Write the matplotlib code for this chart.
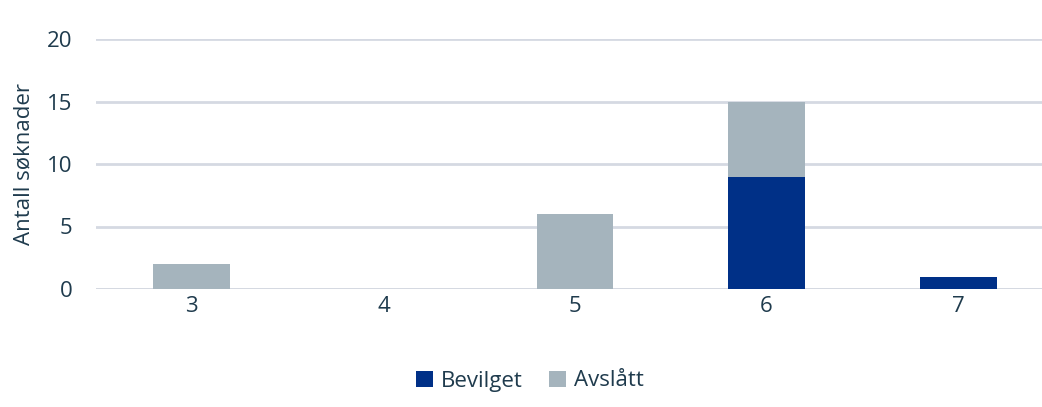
import matplotlib
matplotlib.use("Agg")
import matplotlib.pyplot as plt
import numpy as np

categories = ["3", "4", "5", "6", "7"]
bevilget = [0, 0, 0, 9, 1]
avslatt = [2, 0, 6, 6, 0]
yticks = [0, 5, 10, 15, 20]

TXT = "#1F3B4D"
plt.rcParams['font.family'] = ['Open Sans', 'DejaVu Sans']

W, H = 1042, 407
fig = plt.figure(figsize=(W/100, H/100), dpi=100)
ax = fig.add_axes([96/W, (H-289)/H, (1054-96)/W, 250/H])

x = np.arange(len(categories))
ax.bar(x, bevilget, width=0.4, color="#003087", label="Bevilget", zorder=3)
ax.bar(x, avslatt, width=0.4, bottom=bevilget, color="#A5B4BD", label="Avslått", zorder=3)

ax.set_xlim(-0.5, len(categories) - 0.5)
ax.set_ylim(0, 20)
ax.set_yticks(yticks)
ax.set_xticks(x)
ax.set_xticklabels(categories)
ax.yaxis.grid(True, color="#D5D9E2", linewidth=2, zorder=0)
ax.axhline(0, color="#D9D9D9", linewidth=2, zorder=1)
for s in ax.spines.values():
    s.set_visible(False)
ax.tick_params(axis='both', length=0, labelsize=16, colors=TXT)
ax.tick_params(axis='y', pad=17)
ax.tick_params(axis='x', pad=5)
ax.set_ylabel("Antall søknader", fontsize=16, color=TXT)
ax.yaxis.set_label_coords(-62/958, 0.5)

fig.legend(loc="center", bbox_to_anchor=(530/W, 1 - 381/H), ncol=2, frameon=False,
           fontsize=16, labelcolor=TXT, handlelength=0.75, handleheight=0.75,
           handletextpad=0.35, columnspacing=1.2)

fig.savefig("out.png", dpi=100)
